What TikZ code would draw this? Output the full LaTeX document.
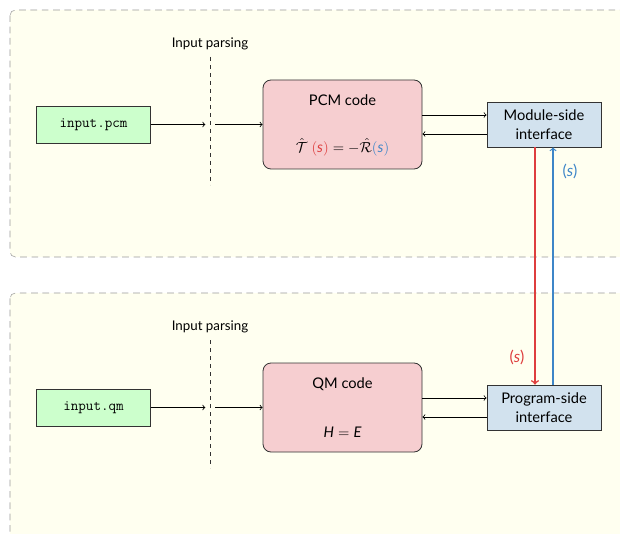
\documentclass[tikz,border=0pt]{standalone}
\usepackage{fontspec}
\setmainfont{Lato}
\usetikzlibrary{calc}
\definecolor{panelfill}{RGB}{255,255,240}
\definecolor{filegreen}{RGB}{204,255,204}
\definecolor{codepink}{RGB}{246,206,208}
\definecolor{ifaceblue}{RGB}{210,226,238}
\definecolor{sred}{RGB}{222,62,62}
\definecolor{sblue}{RGB}{62,134,200}
\tikzset{
  panel/.style={draw=black!40, dash pattern=on 5pt off 3.5pt, fill=panelfill, rounded corners=4pt},
  filebox/.style={draw=black!80, semithick, fill=filegreen, minimum width=85.5pt, minimum height=27.75pt, inner sep=0pt, font=\fontsize{11}{13}\selectfont\ttfamily},
  codebox/.style={draw=black!80, semithick, fill=codepink, rounded corners=6pt, minimum width=119.25pt, minimum height=66.75pt, inner sep=0pt},
  ifacebox/.style={draw=black!80, semithick, fill=ifaceblue, minimum width=85.5pt, minimum height=33.75pt, inner sep=0pt, align=center, font=\fontsize{11}{12}\selectfont},
  codetext/.style={font=\fontsize{11}{13}\selectfont},
  linklabel/.style={font=\fontsize{12}{14}\selectfont},
  parseline/.style={dashed, black!80, semithick},
  parselabel/.style={font=\fontsize{10}{12}\selectfont},
  flow/.style={->, semithick},
}
\begin{document}
\begin{tikzpicture}[x=0.75pt, y=0.75pt]
  \useasboundingbox (0,0) rectangle (620,-534);
  \clip (0,0) rectangle (620,-534);
  %%%%% panels %%%%%
  \draw[panel] (10,-10) rectangle (650,-257);
  \draw[panel] (10,-293) rectangle (650,-580);

  %%%%% PCM side %%%%%
  \node[filebox] (pcmfile) at (93.5,-124.5) {input.pcm};
  \draw[parseline] (210,-57) -- (210,-185);
  \node[parselabel] (pcmparse) at (210,-44) {Input parsing};
  \coordinate (pcmcut) at (210,-124.5);
  \node[codebox] (pcm) at (342.5,-124.5) {};
  \node[codetext] (pcmtitle) at (342.5,-100) {PCM code};
  \node[codetext] (pcmeq) at (342.5,-147) {$\hat{\mathcal{T}}\;\textcolor{sred}{(\textit{s})} = -\hat{\mathcal{R}}\textcolor{sblue}{(\textit{s})}$};
  \node[ifacebox] (modiface) at (544,-124.5) {Module-side\\[2pt]interface};
  \draw[flow] (pcmfile.east) -- ([xshift=-3.5pt]pcmcut);
  \draw[flow] ([xshift=4pt]pcmcut) -- (pcm.west);
  \draw[flow] (pcm.east |- 0,-115) -- (modiface.west |- 0,-115);
  \draw[flow] (modiface.west |- 0,-134) -- (pcm.east |- 0,-134);

  %%%%% QM side %%%%%
  \node[filebox] (qmfile) at (93.5,-407.5) {input.qm};
  \draw[parseline] (210,-340) -- (210,-468);
  \node[parselabel] (qmparse) at (210,-327) {Input parsing};
  \coordinate (qmcut) at (210,-407.5);
  \node[codebox] (qm) at (342.5,-407.5) {};
  \node[codetext] (qmtitle) at (342.5,-384) {QM code};
  \node[codetext] (qmeq) at (342.5,-432) {$\textit{H} = \textit{E}$};
  \node[ifacebox] (progiface) at (544,-407.5) {Program-side\\[2pt]interface};
  \draw[flow] (qmfile.east) -- ([xshift=-3.5pt]qmcut);
  \draw[flow] ([xshift=4pt]qmcut) -- (qm.west);
  \draw[flow] (qm.east |- 0,-398) -- (progiface.west |- 0,-398);
  \draw[flow] (progiface.west |- 0,-417) -- (qm.east |- 0,-417);

  %%%%% coupling %%%%%
  \draw[->, line width=1.2pt, sred] (modiface.south -| 535,0) -- (progiface.north -| 535,0);
  \draw[->, line width=0.9pt, sblue] (progiface.north -| 553,0) -- (modiface.south -| 553,0);
  \node[linklabel, text=sred] (sdown) at (517,-357) {(\textit{s})};
  \node[linklabel, text=sblue] (sup) at (570,-171) {(\textit{s})};
\end{tikzpicture}
\end{document}
